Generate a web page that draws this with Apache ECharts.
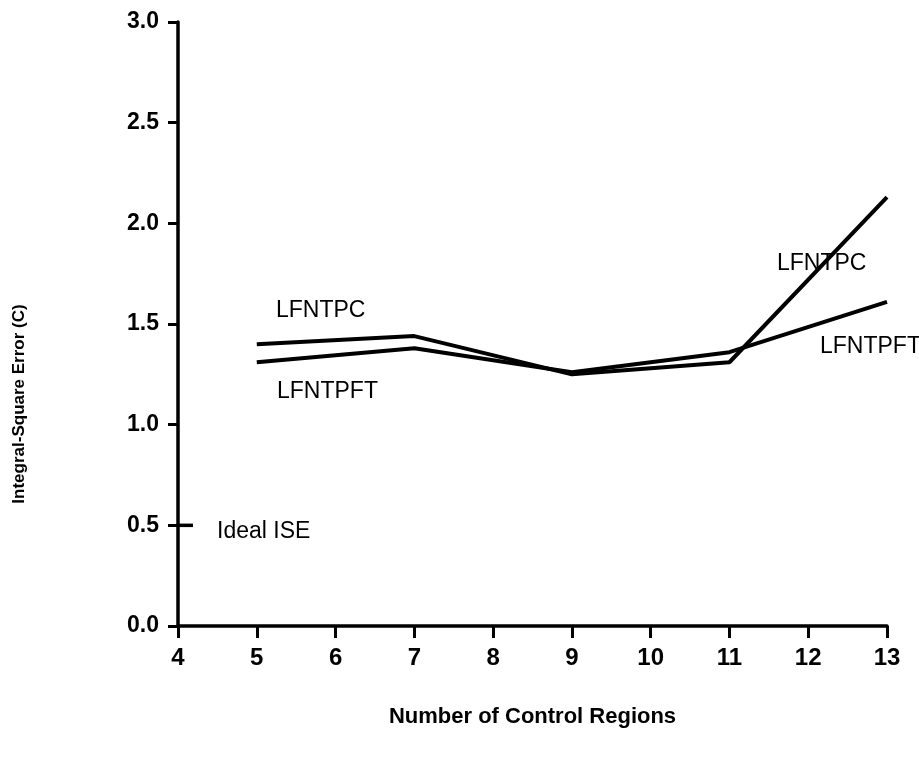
<!DOCTYPE html>
<html>
<head>
<meta charset="utf-8">
<script src="https://cdn.jsdelivr.net/npm/echarts@6/dist/echarts.min.js"></script>
<style>
html,body{margin:0;padding:0;background:#fff;}
#chart{width:919px;height:759px;}
</style>
</head>
<body>
<div id="chart"></div>
<script>
// Data
const xValues = [5, 7, 9, 11, 13];
const lfntpc = [1.40, 1.44, 1.25, 1.31, 2.13];
const lfntpft = [1.31, 1.38, 1.26, 1.36, 1.61];
const idealISE = 0.5;
const xTicks = [4, 5, 6, 7, 8, 9, 10, 11, 12, 13];
const yTicks = [0.0, 0.5, 1.0, 1.5, 2.0, 2.5, 3.0];

const FONT = 'Liberation Sans, Arial, Helvetica, sans-serif';
const chart = echarts.init(document.getElementById('chart'), null, {renderer: 'canvas'});

const txt = (text, x, y, size, weight) => ({
  type: 'text', x: x, y: y, z: 100,
  style: {text: text, fill: '#000', font: (weight || 'normal') + ' ' + size + 'px ' + FONT,
          textAlign: 'left', textVerticalAlign: 'middle'}
});

const option = {
  backgroundColor: '#fff',
  animation: false,
  grid: {left: 178, right: 32, top: 22, bottom: 133, containLabel: false},
  xAxis: {
    type: 'value', min: xTicks[0], max: xTicks[xTicks.length - 1], interval: 1,
    name: 'Number of Control Regions', nameLocation: 'middle', nameGap: 80,
    nameTextStyle: {color: '#000', fontFamily: FONT, fontSize: 22, fontWeight: 'bold'},
    axisLine: {show: true, onZero: false, lineStyle: {color: '#000', width: 3.5}},
    axisTick: {show: true, length: 12, lineStyle: {color: '#000', width: 3}},
    axisLabel: {color: '#000', fontFamily: FONT, fontSize: 24, fontWeight: 'bold', margin: 20},
    splitLine: {show: false}
  },
  yAxis: {
    type: 'value', min: yTicks[0], max: yTicks[yTicks.length - 1], interval: 0.5,
    axisLine: {show: true, onZero: false, lineStyle: {color: '#000', width: 3.5}},
    axisTick: {show: true, length: 10, lineStyle: {color: '#000', width: 3}},
    axisLabel: {color: '#000', fontFamily: FONT, fontSize: 23, fontWeight: 'bold', margin: 19,
                formatter: v => v.toFixed(1)},
    splitLine: {show: false}
  },
  series: [
    {
      name: 'LFNTPC', type: 'line', symbol: 'none',
      data: xValues.map((x, i) => [x, lfntpc[i]]),
      lineStyle: {color: '#000', width: 4}
    },
    {
      name: 'LFNTPFT', type: 'line', symbol: 'none',
      data: xValues.map((x, i) => [x, lfntpft[i]]),
      lineStyle: {color: '#000', width: 4}
    },
    {
      name: 'Ideal ISE', type: 'scatter', symbol: 'rect',
      symbolSize: [15, 3.5], symbolOffset: [7.5, 0],
      data: [[xTicks[0], idealISE]],
      itemStyle: {color: '#000', opacity: 1}, clip: false
    }
  ],
  graphic: [
    txt('LFNTPC', 276, 311, 23),
    txt('LFNTPFT', 277, 392, 23),
    txt('LFNTPC', 777, 264, 23),
    txt('LFNTPFT', 820, 347, 23),
    txt('Ideal ISE', 217, 532, 23),
    {
      type: 'text', x: 19, y: 404, rotation: Math.PI / 2, z: 100,
      style: {text: 'Integral-Square Error (C)', fill: '#000', font: 'bold 17px ' + FONT,
              textAlign: 'center', textVerticalAlign: 'middle'}
    }
  ]
};
chart.setOption(option);
</script>
</body>
</html>
